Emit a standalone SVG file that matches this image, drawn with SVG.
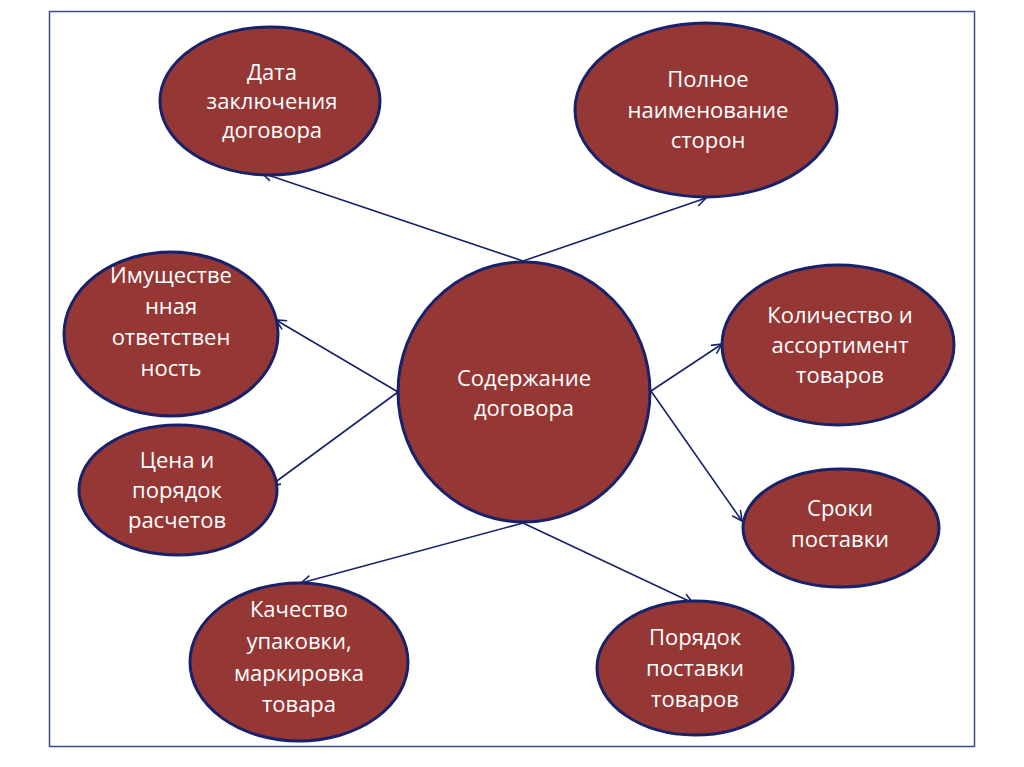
<svg xmlns="http://www.w3.org/2000/svg" width="1024" height="767" viewBox="0 0 1024 767">
<style>
.n{fill:#953735;stroke:#17226a;stroke-width:3}
.t{fill:#ffffff;font-family:"Open Sans","Liberation Sans",sans-serif;font-size:22px;text-anchor:middle}
.c{stroke:#17226a;stroke-width:1.6;fill:none;marker-end:url(#a)}
</style>
<defs>
<marker id="a" markerWidth="14" markerHeight="14" refX="12" refY="7" orient="auto" markerUnits="userSpaceOnUse">
<path d="M2,2 L12,7 L2,12" fill="none" stroke="#17226a" stroke-width="1.6"/>
</marker>
</defs>
<rect width="1024" height="767" fill="#ffffff"/>
<rect x="49.5" y="11.5" width="925" height="735" fill="none" stroke="#3d4a82" stroke-width="1.5"/>
<g id="connectors">
<line class="c" x1="523" y1="261" x2="262" y2="173"/>
<line class="c" x1="523" y1="261" x2="706" y2="198"/>
<line class="c" x1="398" y1="392" x2="276" y2="320"/>
<line class="c" x1="398" y1="392" x2="270" y2="486"/>
<line class="c" x1="651" y1="391" x2="722" y2="344"/>
<line class="c" x1="651" y1="391" x2="742" y2="521"/>
<line class="c" x1="523" y1="523" x2="301" y2="583"/>
<line class="c" x1="523" y1="523" x2="693" y2="603"/>
</g>
<g id="center">
<ellipse class="n" cx="524" cy="392" rx="126" ry="130"/>
<text class="t"><tspan x="524" y="386">Содержание</tspan><tspan x="524" y="416">договора</tspan></text>
</g>
<g id="n1">
<ellipse class="n" cx="270" cy="101" rx="110" ry="74"/>
<text class="t"><tspan x="272" y="80">Дата</tspan><tspan x="272" y="109">заключения</tspan><tspan x="272" y="138">договора</tspan></text>
</g>
<g id="n2">
<ellipse class="n" cx="706" cy="110" rx="131" ry="87"/>
<text class="t"><tspan x="708" y="87">Полное</tspan><tspan x="708" y="118">наименование</tspan><tspan x="708" y="148">сторон</tspan></text>
</g>
<g id="n3">
<ellipse class="n" cx="171" cy="334" rx="107" ry="82"/>
<text class="t"><tspan x="171" y="283">Имуществе</tspan><tspan x="171" y="314">нная</tspan><tspan x="171" y="345">ответствен</tspan><tspan x="171" y="376">ность</tspan></text>
</g>
<g id="n4">
<ellipse class="n" cx="178" cy="490" rx="99" ry="65"/>
<text class="t"><tspan x="177" y="468">Цена и</tspan><tspan x="177" y="498">порядок</tspan><tspan x="177" y="528">расчетов</tspan></text>
</g>
<g id="n5">
<ellipse class="n" cx="838" cy="345" rx="116" ry="80"/>
<text class="t"><tspan x="840" y="323">Количество и</tspan><tspan x="840" y="353">ассортимент</tspan><tspan x="840" y="383">товаров</tspan></text>
</g>
<g id="n6">
<ellipse class="n" cx="841" cy="528" rx="98" ry="59"/>
<text class="t"><tspan x="840" y="516">Сроки</tspan><tspan x="840" y="547">поставки</tspan></text>
</g>
<g id="n7">
<ellipse class="n" cx="299" cy="662" rx="109" ry="79"/>
<text class="t"><tspan x="299" y="617">Качество</tspan><tspan x="299" y="649">упаковки,</tspan><tspan x="299" y="681">маркировка</tspan><tspan x="299" y="712">товара</tspan></text>
</g>
<g id="n8">
<ellipse class="n" cx="695" cy="668" rx="98" ry="67"/>
<text class="t"><tspan x="695" y="645">Порядок</tspan><tspan x="695" y="676">поставки</tspan><tspan x="695" y="707">товаров</tspan></text>
</g>
</svg>
